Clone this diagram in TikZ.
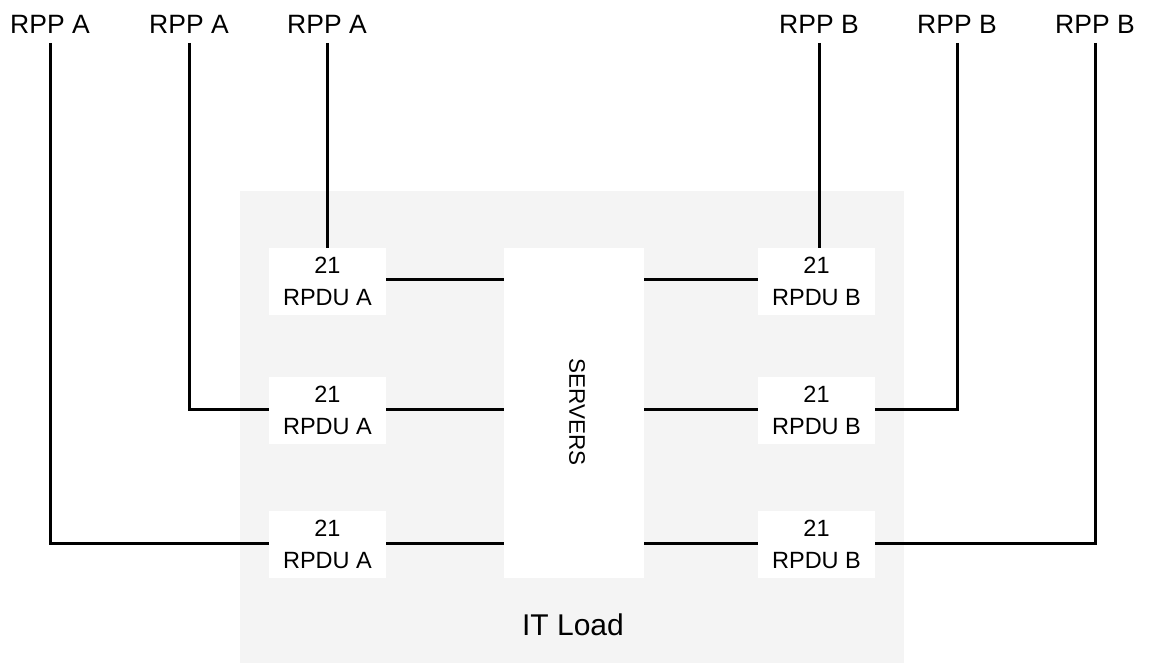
\documentclass[tikz,border=0pt]{standalone}
\usepackage{fontspec}
\setmainfont{Liberation Sans}
\definecolor{loadgray}{HTML}{F4F4F4}
\begin{document}
\begin{tikzpicture}[x=1pt,y=-1pt,
  rpdu/.style={fill=white,minimum width=117pt,minimum height=67pt,inner sep=0pt,align=center,font=\fontsize{23.5}{32}\selectfont},
  rpp/.style={anchor=base,inner sep=0pt,font=\fontsize{26.5}{30}\selectfont},
  wire/.style={line width=3pt,draw=black}]
\fill[white] (0,0) rectangle (1152,663);
\useasboundingbox (0,0) rectangle (1152,663);
\node[fill=loadgray,minimum width=664pt,minimum height=472pt,inner sep=0pt,anchor=north west] (load) at (240,191) {};
\node[font=\fontsize{30}{34}\selectfont,anchor=base] (itload) at (573,635) {IT Load};
\node[fill=white,minimum width=140pt,minimum height=330pt,inner sep=0pt] (servers) at (574,413) {};
\node[rotate=-90,inner sep=0pt,font=\fontsize{22.5}{26}\selectfont] (srvtxt) at (577,412) {SERVERS};
\node[rpdu] (a1) at (327.5,281.5) {21\\RPDU A};
\node[rpdu] (a2) at (327.5,410.5) {21\\RPDU A};
\node[rpdu] (a3) at (327.5,544.5) {21\\RPDU A};
\node[rpdu] (b1) at (816.5,281.5) {21\\RPDU B};
\node[rpdu] (b2) at (816.5,410.5) {21\\RPDU B};
\node[rpdu] (b3) at (816.5,544.5) {21\\RPDU B};
\node[rpp] (pa3) at (50,34) {RPP A};
\node[rpp] (pa2) at (189,34) {RPP A};
\node[rpp] (pa1) at (327,34) {RPP A};
\node[rpp] (pb1) at (819,34) {RPP B};
\node[rpp] (pb2) at (957,34) {RPP B};
\node[rpp] (pb3) at (1095,34) {RPP B};
% verticals to top row
\draw[wire] ([yshift=-9pt]pa1.base) -- (pa1.base |- a1.north);
\draw[wire] ([yshift=-9pt]pb1.base) -- (pb1.base |- b1.north);
% middle row
\draw[wire] ([yshift=-9pt]pa2.base) |- ([yshift=1.5pt]a2.west);
\draw[wire] ([yshift=-9pt]pb2.base) |- ([yshift=1.5pt]b2.east);
% bottom row
\draw[wire] ([yshift=-9pt]pa3.base) |- ([yshift=1.5pt]a3.west);
\draw[wire] ([yshift=-9pt]pb3.base) |- ([yshift=1.5pt]b3.east);
% to servers
\foreach \r in {1,2,3}{
  \draw[wire] ([yshift=1.5pt]a\r.east) -- ([yshift=1.5pt]servers.west |- a\r.east);
  \draw[wire] ([yshift=1.5pt]servers.east |- b\r.west) -- ([yshift=1.5pt]b\r.west);
}
\end{tikzpicture}
\end{document}
